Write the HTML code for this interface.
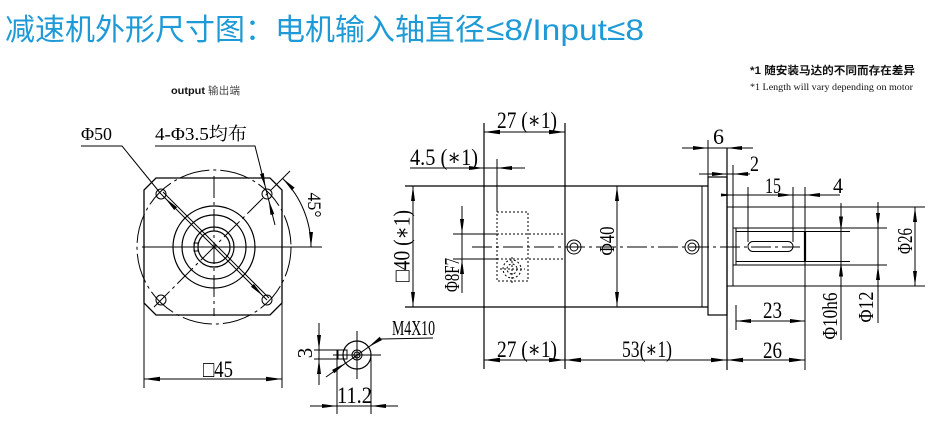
<!DOCTYPE html>
<html><head><meta charset="utf-8"><style>
html,body{margin:0;padding:0;background:#fff;width:936px;height:423px;overflow:hidden}
svg{display:block}
.t{font-family:"Liberation Serif","Noto Serif CJK SC","DejaVu Serif",serif;fill:#000}
</style></head><body>
<svg width="936" height="423" viewBox="0 0 936 423" xmlns="http://www.w3.org/2000/svg">
<text y="40" fill="#1e9ad6" font-size="30" font-family="'Liberation Sans','Noto Sans CJK SC',sans-serif"><tspan x="5" textLength="480" lengthAdjust="spacing">减速机外形尺寸图：电机输入轴直径</tspan><tspan x="486" textLength="158" lengthAdjust="spacingAndGlyphs">≤8/Input≤8</tspan></text>
<text x="750" y="74" font-size="11" font-weight="bold" font-family="'Liberation Sans','Noto Sans CJK SC',sans-serif" fill="#111" textLength="165" lengthAdjust="spacingAndGlyphs">*1 随安装马达的不同而存在差异</text>
<text x="750" y="90" font-size="9.5" font-family="'Liberation Serif',serif" fill="#111" textLength="163" lengthAdjust="spacingAndGlyphs">*1 Length will vary depending on motor</text>
<text x="171" y="94" font-size="10" font-weight="bold" font-family="'Liberation Sans',sans-serif" fill="#111" textLength="34" lengthAdjust="spacingAndGlyphs">output</text>
<text x="208" y="94" font-size="10.5" font-family="'Liberation Sans','Noto Sans CJK SC',sans-serif" fill="#444" textLength="32">输出端</text>

<g stroke="#000" fill="none" stroke-width="1">
<path d="M156,178 L270,178 L282,190 L282,303 L270,315 L156,315 L144,303 L144,190 Z" stroke-width="1.3"/>
<line x1="144" y1="303" x2="144" y2="388"/>
<line x1="282" y1="303" x2="282" y2="388"/>
<circle cx="214" cy="247" r="77" stroke-dasharray="30 4 3 4"/>
<circle cx="214" cy="247" r="41" stroke-width="1.2"/>
<circle cx="214" cy="247" r="32" stroke-width="1.2"/>
<circle cx="214" cy="247" r="20" stroke-width="1.2"/>
<circle cx="214" cy="247" r="16" stroke-width="1.2"/>
<rect x="194" y="243" width="4" height="8"/>
<circle cx="161" cy="194" r="5"/>
<circle cx="267" cy="194" r="5"/>
<circle cx="161" cy="300" r="5"/>
<circle cx="267" cy="300" r="5"/>
<line x1="142" y1="247" x2="322" y2="247"/>
<line x1="214" y1="176" x2="214" y2="316" stroke-dasharray="22 4 3 4"/>
<line x1="154" y1="307" x2="272" y2="189" stroke-dasharray="22 4 3 4"/>
<line x1="272" y1="189" x2="290" y2="171"/>
<polyline points="81,146 122,146 161,194"/>
<line x1="161" y1="194" x2="267" y2="300"/>
<line x1="163" y1="192" x2="269" y2="298"/>
<polyline points="155,146 255,146 275,225"/>
<path d="M282.6,178.4 A97,97 0 0,1 311,247"/>
<line x1="144" y1="379" x2="282" y2="379"/>

<circle cx="357" cy="355" r="14" stroke-width="1.2"/>
<circle cx="357" cy="355" r="5"/>
<circle cx="357" cy="355" r="3"/>
<rect x="338" y="350" width="9" height="9"/>
<line x1="314" y1="350" x2="347" y2="350"/>
<line x1="314" y1="359" x2="347" y2="359"/>
<line x1="319" y1="323" x2="319" y2="385"/>
<line x1="333" y1="355" x2="381" y2="355"/>
<line x1="357" y1="331" x2="357" y2="379"/>
<line x1="337" y1="350" x2="337" y2="414"/>
<line x1="371" y1="355" x2="371" y2="414"/>
<line x1="310" y1="406" x2="398" y2="406"/>
<polyline points="326,377 380,339 433,338"/>

<line x1="405" y1="186" x2="708" y2="186" stroke-width="1.3"/>
<line x1="405" y1="307" x2="708" y2="307" stroke-width="1.3"/>
<line x1="484" y1="123" x2="484" y2="369" stroke-width="1.2"/>
<line x1="565" y1="123" x2="565" y2="369" stroke-width="1.2"/>
<line x1="702" y1="186" x2="702" y2="307"/>
<rect x="708" y="177" width="19" height="138" stroke-width="1.2"/>
<line x1="708" y1="140" x2="708" y2="177"/>
<line x1="727" y1="148" x2="727" y2="370" stroke-width="1.2"/>
<line x1="727" y1="207" x2="925" y2="207"/>
<line x1="727" y1="286" x2="925" y2="286"/>
<line x1="733" y1="165" x2="733" y2="286"/>
<line x1="736" y1="228" x2="736" y2="265"/>
<line x1="733" y1="228" x2="887" y2="228"/>
<line x1="733" y1="265" x2="887" y2="265"/>
<line x1="736" y1="231.5" x2="850" y2="231.5"/>
<line x1="736" y1="261.5" x2="850" y2="261.5"/>
<line x1="805" y1="187" x2="805" y2="370"/>
<line x1="805" y1="231" x2="805" y2="262" stroke-width="2.2"/>
<line x1="748" y1="187" x2="748" y2="242"/>
<line x1="793" y1="187" x2="793" y2="242"/>
<rect x="748" y="241.5" width="45" height="10" rx="5" ry="5"/>
<line x1="472" y1="247" x2="800" y2="247" stroke-dasharray="20 4 3 4"/>
<circle cx="574" cy="247" r="7"/>
<circle cx="574" cy="247" r="4"/>
<circle cx="692" cy="247" r="7"/>
<circle cx="692" cy="247" r="4"/>
<g stroke-dasharray="2 2">
<rect x="497" y="212" width="31" height="69"/>
<line x1="497" y1="234" x2="565" y2="234"/>
<line x1="497" y1="259" x2="565" y2="259"/>
<circle cx="512" cy="269" r="9"/>
<circle cx="512" cy="269" r="5"/>
<line x1="500" y1="269" x2="525" y2="269"/>
<line x1="512" y1="257" x2="512" y2="284"/>
</g>
<line x1="453" y1="234" x2="497" y2="234"/>
<line x1="453" y1="259" x2="497" y2="259"/>
<line x1="497" y1="159" x2="497" y2="212"/>
<line x1="462" y1="206" x2="462" y2="293"/>
<line x1="413" y1="186" x2="413" y2="307"/>
<line x1="617" y1="186" x2="617" y2="307"/>
<line x1="484" y1="132" x2="565" y2="132"/>
<line x1="410" y1="168" x2="525" y2="168"/>
<line x1="484" y1="360" x2="805" y2="360"/>
<line x1="736" y1="321" x2="805" y2="321"/>
<line x1="736" y1="305" x2="736" y2="330"/>
<line x1="682" y1="148" x2="753" y2="148"/>
<line x1="699" y1="174" x2="750" y2="174"/>
<line x1="721" y1="195" x2="840" y2="195"/>
<line x1="841" y1="203" x2="841" y2="340"/>
<line x1="878" y1="202" x2="878" y2="323"/>
<line x1="915" y1="207" x2="915" y2="286"/>
</g>

<g fill="#000" stroke="none">
<polygon points="144,379 160,376.8 160,381.2"/>
<polygon points="282,379 266,376.8 266,381.2"/>
<polygon points="319,350 317,335 321,335"/>
<polygon points="319,359 317,374 321,374"/>
<polygon points="337,406 322,404 322,408"/>
<polygon points="371,406 386,404 386,408"/>
<polygon points="345.5,363 334.3,373.2 332.1,369.9"/>
<polygon points="368.5,347 381.9,340.1 379.7,336.8"/>
<polygon points="165,198 177,207.2 174.2,210"/>
<polygon points="263,296 253.8,284 251,286.8"/>
<polygon points="265.6,188 263.8,173 260,174"/>
<polygon points="268.7,200 274.3,214 270.5,215"/>
<polygon points="282.6,178.4 294.6,187.6 291.8,190.4"/>
<polygon points="311,247 309,232 313,232"/>
<polygon points="484,132 500,129.8 500,134.2"/>
<polygon points="565,132 549,129.8 549,134.2"/>
<polygon points="484,168 469,166 469,170"/>
<polygon points="497,168 512,166 512,170"/>
<polygon points="413,186 411,201 415,201"/>
<polygon points="413,307 411,292 415,292"/>
<polygon points="462,234 460,219 464,219"/>
<polygon points="462,259 460,274 464,274"/>
<polygon points="617,186 615,201 619,201"/>
<polygon points="617,307 615,292 619,292"/>
<polygon points="484,360 500,357.8 500,362.2"/>
<polygon points="565,360 549,357.8 549,362.2"/>
<polygon points="565,360 581,357.8 581,362.2"/>
<polygon points="727,360 711,357.8 711,362.2"/>
<polygon points="727,360 743,357.8 743,362.2"/>
<polygon points="805,360 789,357.8 789,362.2"/>
<polygon points="736,321 751,319 751,323"/>
<polygon points="805,321 790,319 790,323"/>
<polygon points="708,148 693,146 693,150"/>
<polygon points="727,148 742,146 742,150"/>
<polygon points="727,174 712,172 712,176"/>
<polygon points="733,174 748,172 748,176"/>
<polygon points="733,195 721,193.5 721,196.5"/>
<polygon points="793,195 778,193 778,197"/>
<polygon points="805,195 820,193 820,197"/>
<polygon points="841,231.5 839,216.5 843,216.5"/>
<polygon points="841,261.5 839,276.5 843,276.5"/>
<polygon points="878,228 876,213 880,213"/>
<polygon points="878,265 876,280 880,280"/>
<polygon points="915,207 913,222 917,222"/>
<polygon points="915,286 913,271 917,271"/>
</g>

<g class="t">
<text x="81" y="140" font-size="18" textLength="31" lengthAdjust="spacingAndGlyphs">Φ50</text>
<text x="155" y="140" font-size="18" textLength="92" lengthAdjust="spacingAndGlyphs">4-Φ3.5均布</text>
<text x="314" y="211" font-size="19" text-anchor="middle" transform="rotate(90 314 205)" textLength="25" lengthAdjust="spacingAndGlyphs">45°</text>
<text x="203" y="377" font-size="23" textLength="30" lengthAdjust="spacingAndGlyphs">□45</text>
<text x="305" y="360" font-size="21" text-anchor="middle" transform="rotate(-90 305 353)">3</text>
<text x="392" y="335" font-size="21" textLength="43" lengthAdjust="spacingAndGlyphs">M4X10</text>
<text x="337" y="403" font-size="23" textLength="35" lengthAdjust="spacingAndGlyphs">11.2</text>
<text x="497" y="128" font-size="23" textLength="60" lengthAdjust="spacingAndGlyphs">27 (∗1)</text>
<text x="410" y="165" font-size="23" textLength="68" lengthAdjust="spacingAndGlyphs">4.5 (∗1)</text>
<text x="402" y="253.5" font-size="23" text-anchor="middle" transform="rotate(-90 402 246)" textLength="72" lengthAdjust="spacingAndGlyphs">□40 (∗1)</text>
<text x="452" y="282" font-size="21" text-anchor="middle" transform="rotate(-90 452 275)" textLength="34" lengthAdjust="spacingAndGlyphs">Φ8F7</text>
<text x="607" y="248" font-size="21" text-anchor="middle" transform="rotate(-90 607 241)" textLength="29" lengthAdjust="spacingAndGlyphs">Φ40</text>
<text x="497" y="357" font-size="23" textLength="60" lengthAdjust="spacingAndGlyphs">27 (∗1)</text>
<text x="622" y="357" font-size="23" textLength="50" lengthAdjust="spacingAndGlyphs">53(∗1)</text>
<text x="713" y="144" font-size="22" textLength="11" lengthAdjust="spacingAndGlyphs">6</text>
<text x="750" y="171" font-size="22" textLength="9" lengthAdjust="spacingAndGlyphs">2</text>
<text x="765" y="193" font-size="22" textLength="16" lengthAdjust="spacingAndGlyphs">15</text>
<text x="833" y="193" font-size="22" textLength="10" lengthAdjust="spacingAndGlyphs">4</text>
<text x="763" y="318" font-size="23" textLength="19" lengthAdjust="spacingAndGlyphs">23</text>
<text x="763" y="358" font-size="23" textLength="19" lengthAdjust="spacingAndGlyphs">26</text>
<text x="830" y="323" font-size="21" text-anchor="middle" transform="rotate(-90 830 316)" textLength="47" lengthAdjust="spacingAndGlyphs">Φ10h6</text>
<text x="866" y="314" font-size="21" text-anchor="middle" transform="rotate(-90 866 307)" textLength="31" lengthAdjust="spacingAndGlyphs">Φ12</text>
<text x="905" y="248" font-size="21" text-anchor="middle" transform="rotate(-90 905 241)" textLength="26" lengthAdjust="spacingAndGlyphs">Φ26</text>
</g>
</svg>
</body></html>
